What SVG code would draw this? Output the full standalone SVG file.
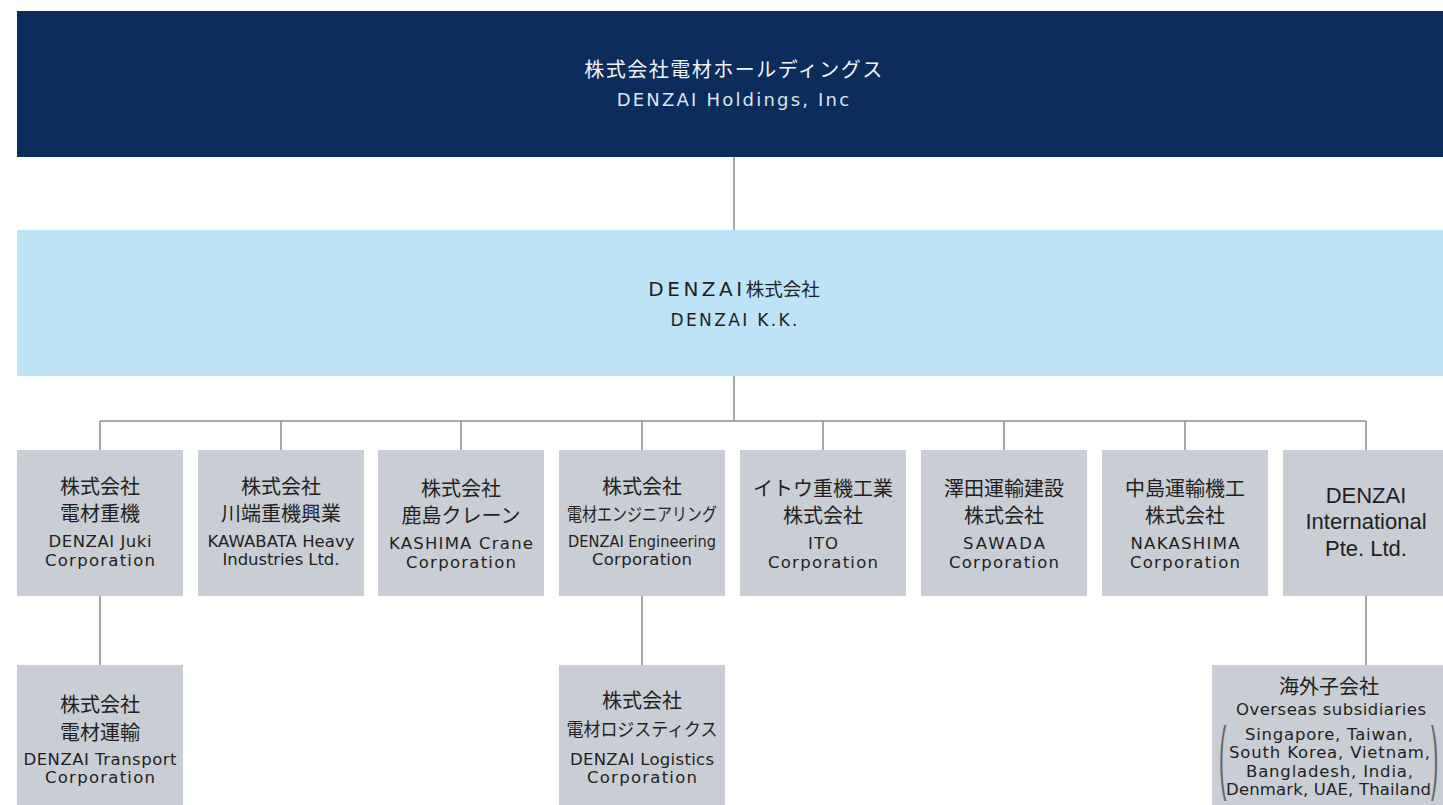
<svg xmlns="http://www.w3.org/2000/svg" width="1443" height="805" viewBox="0 0 1443 805">
<style>
.box{fill:#c9cdd6}
.jp{font-family:"Noto Sans CJK JP","Noto Sans",sans-serif;font-size:20px;fill:#231f20;text-anchor:middle}
.jps{font-family:"Noto Sans CJK JP","Noto Sans",sans-serif;font-size:18px;fill:#231f20;text-anchor:middle}
.en{font-family:"DejaVu Sans","Noto Sans",sans-serif;font-size:16.5px;fill:#231f20;text-anchor:middle}
.ar{font-family:"Liberation Sans",Arial,sans-serif;font-size:22px;fill:#231f20;text-anchor:middle}
.pr{font-family:"Liberation Sans",Arial,sans-serif;font-size:22px;fill:#666666}
.ln{stroke:#8c8c8c;stroke-width:1.5;fill:none}
</style>
<rect width="1443" height="805" fill="#ffffff"/>
<g id="connectors">
<path class="ln" d="M734 157V230M734 376V421M100 421H1366M100 421V450M281 421V450M461 421V450M642 421V450M823 421V450M1004 421V450M1185 421V450M1366 421V450M100 596V665M642 596V665M1366 596V665"/>
</g>
<g id="holdings">
<rect x="17" y="11" width="1426" height="146" fill="#0c2c5c"/>
<text x="734" y="77" style="font-family:'Noto Sans CJK JP',sans-serif;font-size:20px;fill:#f2f4f8;text-anchor:middle;letter-spacing:1.5px">株式会社電材ホールディングス</text>
<text x="734" y="106" style="font-family:'DejaVu Sans',sans-serif;font-size:18px;fill:#dfe5ee;text-anchor:middle;letter-spacing:2.2px">DENZAI Holdings, Inc</text>
</g>
<g id="denzai-kk">
<rect x="17" y="230" width="1426" height="146" fill="#bde3f7"/>
<text x="734" y="296" style="font-family:'DejaVu Sans','Noto Sans CJK JP',sans-serif;font-size:20px;fill:#231f20;text-anchor:middle"><tspan style="letter-spacing:3.5px">DENZAI</tspan><tspan style="font-family:'Noto Sans CJK JP',sans-serif;font-size:18.5px">株式会社</tspan></text>
<text x="734" y="326" textLength="127" lengthAdjust="spacing" style="font-family:'DejaVu Sans',sans-serif;font-size:17px;fill:#231f20;text-anchor:middle">DENZAI K.K.</text>
</g>
<g id="juki">
<rect class="box" x="17" y="450" width="166" height="146"/>
<text class="jp" x="100" y="494">株式会社</text>
<text class="jp" x="100" y="521">電材重機</text>
<text class="en" x="100" y="547" textLength="103" lengthAdjust="spacing">DENZAI Juki</text>
<text class="en" x="100" y="566" textLength="110" lengthAdjust="spacing">Corporation</text>
</g>
<g id="kawabata">
<rect class="box" x="198" y="450" width="166" height="146"/>
<text class="jp" x="281" y="494">株式会社</text>
<text class="jp" x="281" y="521">川端重機興業</text>
<text class="en" x="281" y="547" textLength="147" lengthAdjust="spacing">KAWABATA Heavy</text>
<text class="en" x="281" y="565" textLength="117" lengthAdjust="spacing">Industries Ltd.</text>
</g>
<g id="kashima">
<rect class="box" x="378" y="450" width="166" height="146"/>
<text class="jp" x="461" y="496">株式会社</text>
<text class="jp" x="461" y="523">鹿島クレーン</text>
<text class="en" x="461" y="549" textLength="144" lengthAdjust="spacing">KASHIMA Crane</text>
<text class="en" x="461" y="568" textLength="110" lengthAdjust="spacing">Corporation</text>
</g>
<g id="engineering">
<rect class="box" x="559" y="450" width="166" height="146"/>
<text class="jp" x="642" y="494">株式会社</text>
<text class="jps" x="642" y="521" textLength="150" lengthAdjust="spacingAndGlyphs">電材エンジニアリング</text>
<text class="en" x="642" y="547" textLength="148" lengthAdjust="spacingAndGlyphs">DENZAI Engineering</text>
<text class="en" x="642" y="565" textLength="100" lengthAdjust="spacing">Corporation</text>
</g>
<g id="ito">
<rect class="box" x="740" y="450" width="166" height="146"/>
<text class="jp" x="823" y="496">イトウ重機工業</text>
<text class="jp" x="823" y="523">株式会社</text>
<text class="en" x="823" y="549" textLength="30" lengthAdjust="spacing">ITO</text>
<text class="en" x="823" y="568" textLength="110" lengthAdjust="spacing">Corporation</text>
</g>
<g id="sawada">
<rect class="box" x="921" y="450" width="166" height="146"/>
<text class="jp" x="1004" y="496">澤田運輸建設</text>
<text class="jp" x="1004" y="523">株式会社</text>
<text class="en" x="1004" y="549" textLength="82" lengthAdjust="spacing">SAWADA</text>
<text class="en" x="1004" y="568" textLength="110" lengthAdjust="spacing">Corporation</text>
</g>
<g id="nakashima">
<rect class="box" x="1102" y="450" width="166" height="146"/>
<text class="jp" x="1185" y="496">中島運輸機工</text>
<text class="jp" x="1185" y="523">株式会社</text>
<text class="en" x="1185" y="549" textLength="109" lengthAdjust="spacing">NAKASHIMA</text>
<text class="en" x="1185" y="568" textLength="110" lengthAdjust="spacing">Corporation</text>
</g>
<g id="international">
<rect class="box" x="1283" y="450" width="160" height="146"/>
<text class="ar" x="1366" y="503">DENZAI</text>
<text class="ar" x="1366" y="529">International</text>
<text class="ar" x="1366" y="556">Pte. Ltd.</text>
</g>
<g id="transport">
<rect class="box" x="17" y="665" width="166" height="140"/>
<text class="jp" x="100" y="712">株式会社</text>
<text class="jp" x="100" y="740">電材運輸</text>
<text class="en" x="100" y="765" textLength="153" lengthAdjust="spacing">DENZAI Transport</text>
<text class="en" x="100" y="783" textLength="110" lengthAdjust="spacing">Corporation</text>
</g>
<g id="logistics">
<rect class="box" x="559" y="665" width="166" height="140"/>
<text class="jp" x="642" y="708">株式会社</text>
<text class="jps" x="642" y="736" textLength="151" lengthAdjust="spacingAndGlyphs">電材ロジスティクス</text>
<text class="en" x="642" y="765" textLength="144" lengthAdjust="spacing">DENZAI Logistics</text>
<text class="en" x="642" y="783" textLength="110" lengthAdjust="spacing">Corporation</text>
</g>
<g id="overseas">
<rect class="box" x="1212" y="665" width="231" height="140"/>
<text class="jp" x="1329" y="694">海外子会社</text>
<text class="en" x="1331" y="715" textLength="190" lengthAdjust="spacing">Overseas subsidiaries</text>
<text class="en" x="1329" y="740" textLength="168" lengthAdjust="spacing">Singapore, Taiwan,</text>
<text class="en" x="1329.5" y="758" textLength="201" lengthAdjust="spacing">South Korea, Vietnam,</text>
<text class="en" x="1329.5" y="777" textLength="167" lengthAdjust="spacing">Bangladesh, India,</text>
<text class="en" x="1328.5" y="795" textLength="205" lengthAdjust="spacing">Denmark, UAE, Thailand</text>
<text class="pr" transform="translate(1219,784) scale(1,3.7)">(</text>
<text class="pr" transform="translate(1431,784) scale(1,3.7)">)</text>
</g>
</svg>
